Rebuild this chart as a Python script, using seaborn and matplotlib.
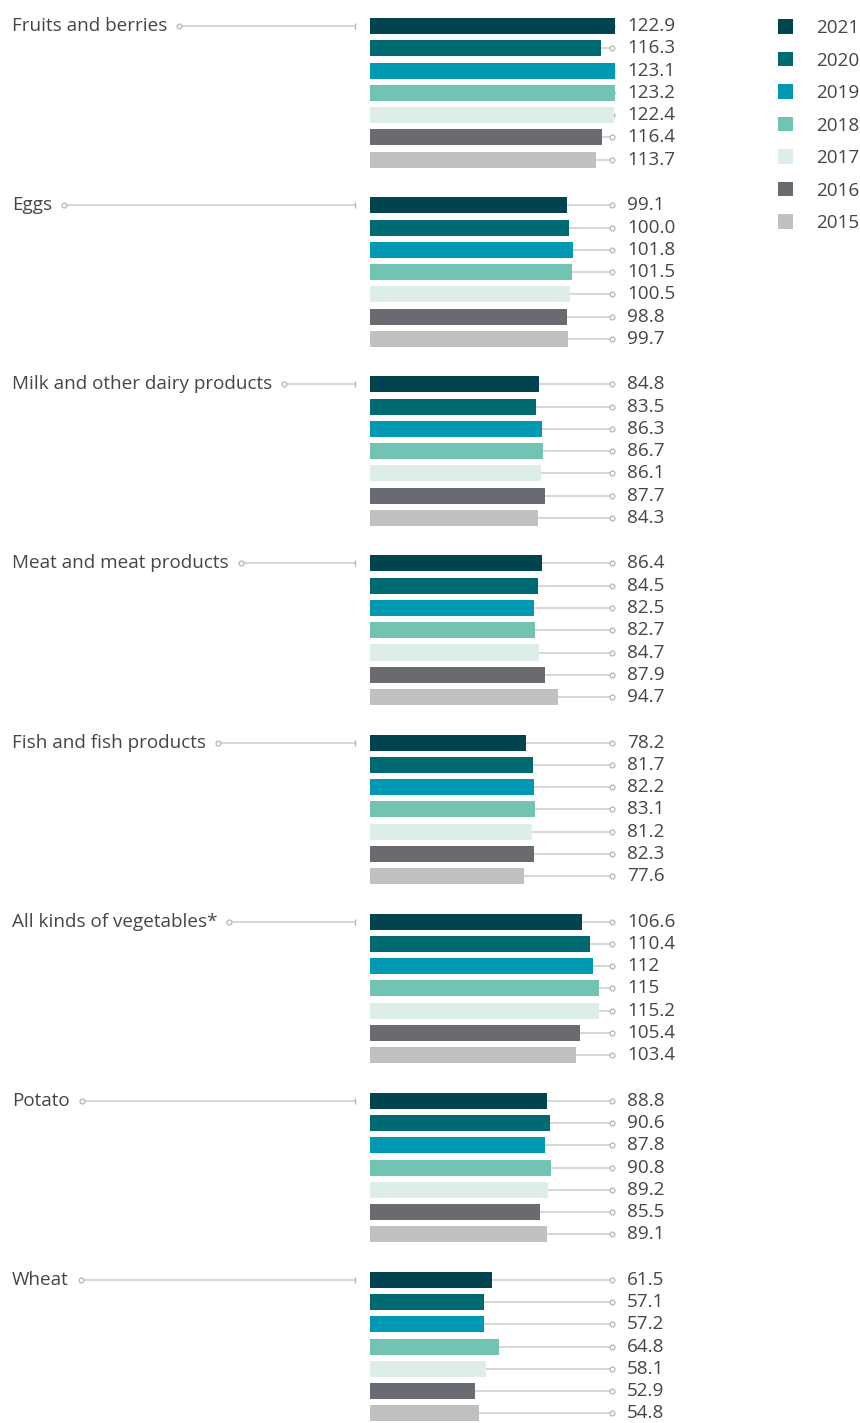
import pandas as pd
import matplotlib.pyplot as plt
import seaborn as sns

# Categories, top to bottom
categories = ['Fruits and berries', 'Eggs', 'Milk and other dairy products',
              'Meat and meat products', 'Fish and fish products',
              'All kinds of vegetables*', 'Potato', 'Wheat']

years = ['2021', '2020', '2019', '2018', '2017', '2016', '2015']

# values per year, as printed on the chart
y2021 = ['122.9', '99.1', '84.8', '86.4', '78.2', '106.6', '88.8', '61.5']
y2020 = ['116.3', '100.0', '83.5', '84.5', '81.7', '110.4', '90.6', '57.1']
y2019 = ['123.1', '101.8', '86.3', '82.5', '82.2', '112', '87.8', '57.2']
y2018 = ['123.2', '101.5', '86.7', '82.7', '83.1', '115', '90.8', '64.8']
y2017 = ['122.4', '100.5', '86.1', '84.7', '81.2', '115.2', '89.2', '58.1']
y2016 = ['116.4', '98.8', '87.7', '87.9', '82.3', '105.4', '85.5', '52.9']
y2015 = ['113.7', '99.7', '84.3', '94.7', '77.6', '103.4', '89.1', '54.8']

colors = ['#01434f', '#006a72', '#0099b4', '#71c3b3', '#ddeee8', '#6a6b70', '#bfc0bf']

series = [y2021, y2020, y2019, y2018, y2017, y2016, y2015]
rows = []
for year, vals in zip(years, series):
    for cat, v in zip(categories, vals):
        rows.append({'category': cat, 'year': year, 'value': float(v), 'label': v})
df = pd.DataFrame(rows)

sns.set_style('white')
plt.rcParams['font.family'] = ['Open Sans', 'DejaVu Sans']
text_color = '#45454a'
line_color = '#cfcfcf'
fs = 13.6

W, H = 860, 1423
fig = plt.figure(figsize=(W / 100, H / 100), dpi=100)
ax = fig.add_axes([0, 0, 1, 1])

sns.barplot(data=df, x='value', y='category', hue='year', order=categories,
            hue_order=years, palette=colors, orient='h', width=0.87, gap=0.28,
            saturation=1, errorbar=None, linewidth=0, legend=False, ax=ax, zorder=3)

# pixel layout: bars start at x=370px, ~1.99 px per unit
scale = 1.99
xmin, xmax = -370 / scale, (W - 370) / scale
ax.set_xlim(xmin, xmax)
ax.set_ylim(-0.519 + H / 179.1, -0.519)
ax.axis('off')


def px_to_x(px):
    return xmin + px / W * (xmax - xmin)


# value labels with leader lines
for year, cont in zip(years, ax.containers):
    labels = df[df['year'] == year]['label'].tolist()
    for bar, lab in zip(cont, labels):
        yc = bar.get_y() + bar.get_height() / 2
        xe = bar.get_width()
        ax.plot([xe, px_to_x(612)], [yc, yc], color=line_color, lw=1.2, zorder=1)
        ax.plot(px_to_x(612), yc, marker='o', ms=3.5, mfc='white', mec='#b5b5b5',
                mew=0.9, zorder=2)
        ax.text(px_to_x(627), yc, lab, ha='left', va='center', fontsize=fs,
                color=text_color)

# category labels with leader lines
fig.canvas.draw()
renderer = fig.canvas.get_renderer()
first = ax.containers[0]
for cat, bar in zip(categories, first):
    yc = bar.get_y() + bar.get_height() / 2
    t = ax.text(px_to_x(12), yc, cat, ha='left', va='center', fontsize=fs,
                color=text_color)
    bb = t.get_window_extent(renderer)
    x0 = px_to_x(bb.x1 + 12)
    ax.plot([x0, px_to_x(355)], [yc, yc], color=line_color, lw=1.2, zorder=1)
    ax.plot(x0, yc, marker='o', ms=3.5, mfc='white', mec='#b5b5b5', mew=0.9, zorder=2)
    ax.plot(px_to_x(355), yc, marker='|', ms=4, mec='#b5b5b5', mew=1, zorder=2)

ax.legend(ax.containers, years, loc='upper left',
          bbox_to_anchor=(778 / W, 1 - 19 / H), frameon=False, fontsize=fs,
          handlelength=0.8, handleheight=0.8, handletextpad=1.2,
          labelspacing=0.77, borderpad=0, borderaxespad=0, labelcolor=text_color)

fig.savefig('out.png', dpi=100)
